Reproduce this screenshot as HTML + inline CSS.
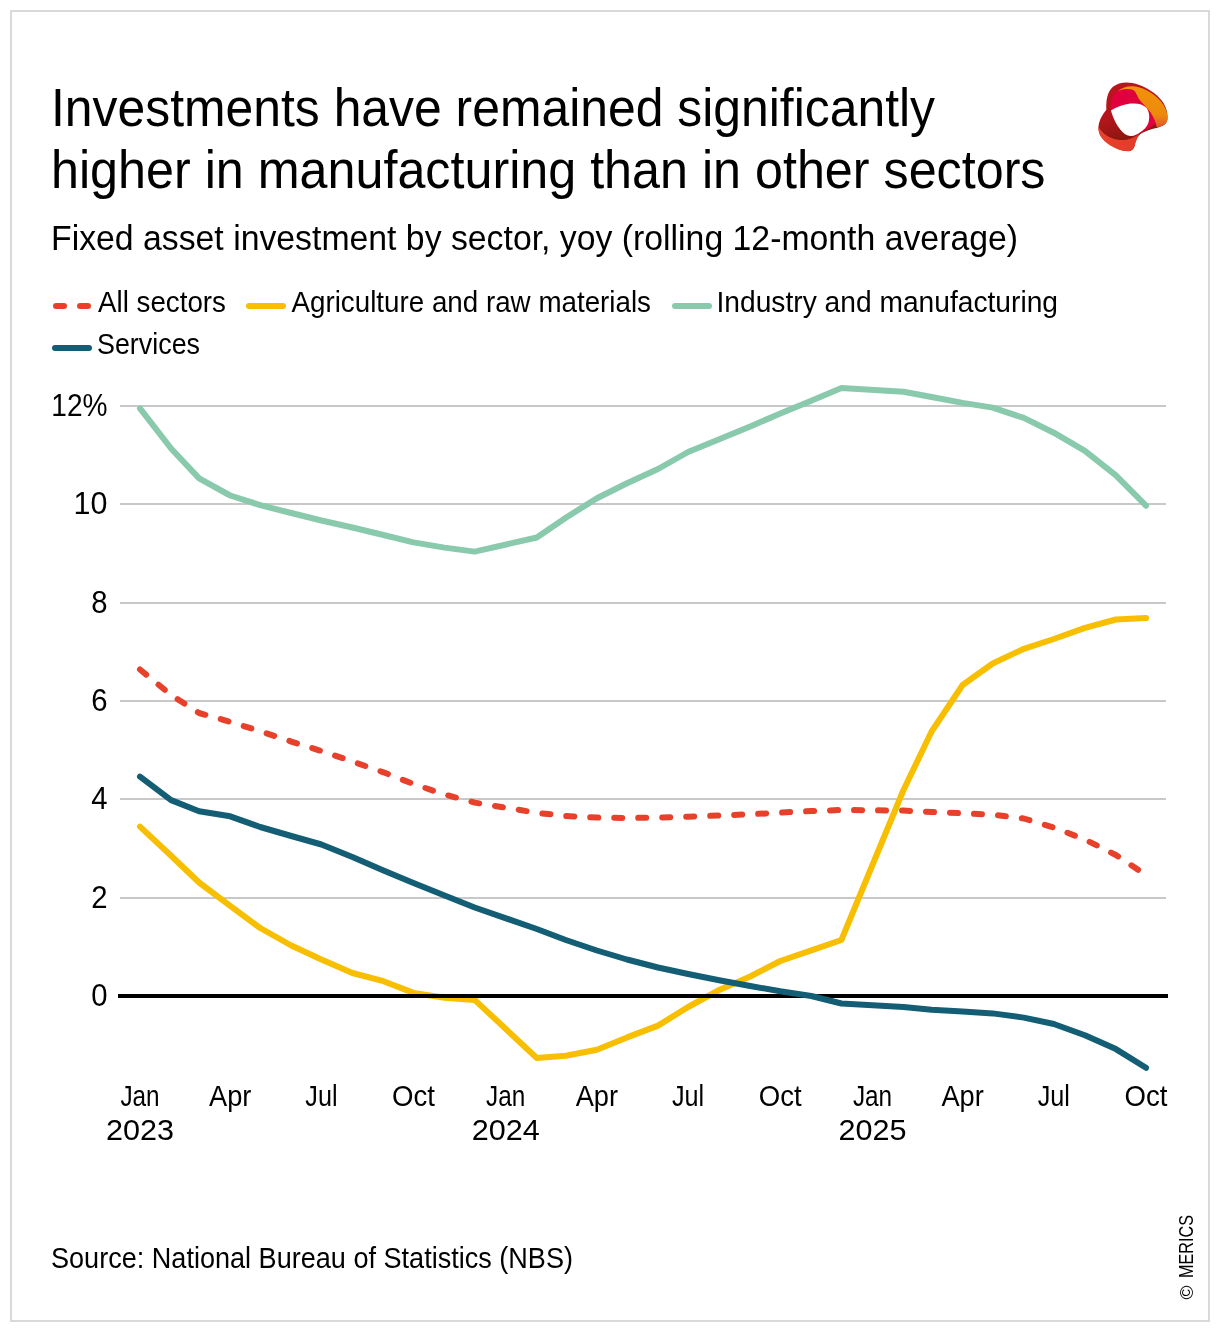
<!DOCTYPE html>
<html><head><meta charset="utf-8">
<style>
html,body{margin:0;padding:0;background:#fff;}
body{width:1220px;height:1332px;overflow:hidden;}
svg{display:block;will-change:transform;}
text{font-family:"Liberation Sans",sans-serif;fill:#000;}
.ax{font-size:30px;}
</style></head>
<body>
<svg width="1220" height="1332" viewBox="0 0 1220 1332">
<rect x="0" y="0" width="1220" height="1332" fill="#fff"/>
<rect x="11" y="11" width="1198" height="1310" fill="none" stroke="#d9d9d9" stroke-width="2"/>
<!-- title -->
<text x="51" y="125.5" font-size="53.5" textLength="884" lengthAdjust="spacingAndGlyphs">Investments have remained significantly</text>
<text x="51" y="188" font-size="53.5" textLength="994.5" lengthAdjust="spacingAndGlyphs">higher in manufacturing than in other sectors</text>
<text x="51" y="249.8" font-size="35.3" textLength="967" lengthAdjust="spacingAndGlyphs">Fixed asset investment by sector, yoy (rolling 12-month average)</text>
<!-- legend -->
<g stroke-linecap="round" stroke-width="6">
<line x1="56" y1="306" x2="64" y2="306" stroke="#e8412b"/>
<line x1="80" y1="306" x2="88" y2="306" stroke="#e8412b"/>
<line x1="249" y1="306" x2="283" y2="306" stroke="#f8be00"/>
<line x1="675" y1="306" x2="709" y2="306" stroke="#89c9ac"/>
<line x1="55" y1="348" x2="89" y2="348" stroke="#135e75"/>
</g>
<text x="98" y="312" font-size="29.3" textLength="128" lengthAdjust="spacingAndGlyphs">All sectors</text>
<text x="291.5" y="312" font-size="29.3" textLength="359.5" lengthAdjust="spacingAndGlyphs">Agriculture and raw materials</text>
<text x="716.5" y="312" font-size="29.3" textLength="341.5" lengthAdjust="spacingAndGlyphs">Industry and manufacturing</text>
<text x="97" y="354.3" font-size="29.3" textLength="103" lengthAdjust="spacingAndGlyphs">Services</text>
<!-- grid -->
<g stroke="#c8c8c8" stroke-width="2">
<line x1="120" y1="406" x2="1166" y2="406"/>
<line x1="120" y1="504" x2="1166" y2="504"/>
<line x1="120" y1="603" x2="1166" y2="603"/>
<line x1="120" y1="701" x2="1166" y2="701"/>
<line x1="120" y1="799" x2="1166" y2="799"/>
<line x1="120" y1="898" x2="1166" y2="898"/>
</g>
<g text-anchor="end">
<text x="107.5" y="416.0" font-size="30.8" textLength="56.2" lengthAdjust="spacingAndGlyphs">12%</text>
<text x="107.5" y="514.0" font-size="30.8" textLength="33.9" lengthAdjust="spacingAndGlyphs">10</text>
<text x="107.5" y="613.0" font-size="30.8" textLength="16.3" lengthAdjust="spacingAndGlyphs">8</text>
<text x="107.5" y="711.0" font-size="30.8" textLength="16.3" lengthAdjust="spacingAndGlyphs">6</text>
<text x="107.5" y="809.0" font-size="30.8" textLength="16.3" lengthAdjust="spacingAndGlyphs">4</text>
<text x="107.5" y="908.0" font-size="30.8" textLength="16.3" lengthAdjust="spacingAndGlyphs">2</text>
<text x="107.5" y="1006.0" font-size="30.8" textLength="16.3" lengthAdjust="spacingAndGlyphs">0</text>
</g>
<g fill="none" stroke-width="6" stroke-linejoin="round" stroke-linecap="round">
<polyline points="140.0,826.6 171.1,855.8 199.1,882.5 230.2,905.9 260.2,928.0 291.3,945.5 321.4,959.5 352.4,973.0 383.5,981.2 413.5,992.9 444.6,997.8 474.7,999.9 536.8,1058.0 565.8,1055.7 596.9,1049.8 627.0,1037.4 658.0,1025.6 688.1,1007.0 719.2,990.0 750.2,976.5 780.3,961.0 811.3,950.3 841.4,940.0 903.5,790.0 931.6,731.5 962.6,685.0 992.7,663.5 1023.8,648.8 1053.8,639.0 1084.9,627.9 1115.9,619.5 1146.0,618.1" stroke="#f8be00"/>
<polyline points="140.0,408.3 171.1,448.5 199.1,478.4 230.2,495.5 260.2,505.1 291.3,513.0 321.4,520.5 352.4,527.5 383.5,535.0 413.5,542.4 444.6,547.6 474.7,551.6 536.8,537.5 565.8,517.7 596.9,498.2 627.0,483.3 658.0,469.0 688.1,452.0 719.2,439.2 750.2,426.4 780.3,413.6 811.3,400.8 841.4,388.0 903.5,391.7 931.6,397.0 962.6,402.9 992.7,407.6 1023.8,417.9 1053.8,432.7 1084.9,450.8 1115.9,475.4 1146.0,505.7" stroke="#89c9ac"/>
<polyline points="140.0,669.5 171.1,695.0 199.1,713.0 230.2,721.9 260.2,731.2 291.3,741.6 321.4,751.0 352.4,761.5 383.5,772.3 413.5,784.0 444.6,794.5 474.7,802.6 536.8,812.8 565.8,816.0 596.9,817.6 627.0,818.0 658.0,817.6 688.1,816.7 719.2,815.5 750.2,814.3 780.3,812.6 811.3,811.0 841.4,810.0 903.5,810.6 931.6,812.0 962.6,813.2 992.7,814.7 1023.8,818.5 1053.8,827.5 1084.9,839.5 1115.9,855.0 1146.0,875.0" stroke="#e8412b" stroke-dasharray="8 16" />
</g>
<line x1="118" y1="996" x2="1168" y2="996" stroke="#000" stroke-width="4"/>
<polyline points="140.0,776.6 171.1,800.1 199.1,811.2 230.2,816.3 260.2,827.0 291.3,836.0 321.4,844.5 352.4,857.0 383.5,870.5 413.5,883.0 444.6,895.5 474.7,907.5 536.8,929.0 565.8,940.0 596.9,950.5 627.0,959.5 658.0,967.5 688.1,974.0 719.2,980.3 750.2,986.0 780.3,991.3 811.3,996.0 841.4,1003.5 903.5,1007.0 931.6,1009.8 962.6,1011.5 992.7,1013.4 1023.8,1017.6 1053.8,1024.0 1084.9,1035.2 1115.9,1049.1 1146.0,1067.8" fill="none" stroke="#135e75" stroke-width="6" stroke-linejoin="round" stroke-linecap="round"/>
<text x="140.0" y="1106" class="ax" text-anchor="middle" textLength="39.2" lengthAdjust="spacingAndGlyphs">Jan</text>
<text x="140.0" y="1139.6" class="ax" text-anchor="middle" textLength="68" lengthAdjust="spacingAndGlyphs">2023</text>
<text x="230.2" y="1106" class="ax" text-anchor="middle" textLength="42.4" lengthAdjust="spacingAndGlyphs">Apr</text>
<text x="321.4" y="1106" class="ax" text-anchor="middle" textLength="32.2" lengthAdjust="spacingAndGlyphs">Jul</text>
<text x="413.5" y="1106" class="ax" text-anchor="middle" textLength="42.9" lengthAdjust="spacingAndGlyphs">Oct</text>
<text x="505.7" y="1106" class="ax" text-anchor="middle" textLength="39.2" lengthAdjust="spacingAndGlyphs">Jan</text>
<text x="505.7" y="1139.6" class="ax" text-anchor="middle" textLength="68" lengthAdjust="spacingAndGlyphs">2024</text>
<text x="596.9" y="1106" class="ax" text-anchor="middle" textLength="42.4" lengthAdjust="spacingAndGlyphs">Apr</text>
<text x="688.1" y="1106" class="ax" text-anchor="middle" textLength="32.2" lengthAdjust="spacingAndGlyphs">Jul</text>
<text x="780.3" y="1106" class="ax" text-anchor="middle" textLength="42.9" lengthAdjust="spacingAndGlyphs">Oct</text>
<text x="872.5" y="1106" class="ax" text-anchor="middle" textLength="39.2" lengthAdjust="spacingAndGlyphs">Jan</text>
<text x="872.5" y="1139.6" class="ax" text-anchor="middle" textLength="68" lengthAdjust="spacingAndGlyphs">2025</text>
<text x="962.6" y="1106" class="ax" text-anchor="middle" textLength="42.4" lengthAdjust="spacingAndGlyphs">Apr</text>
<text x="1053.8" y="1106" class="ax" text-anchor="middle" textLength="32.2" lengthAdjust="spacingAndGlyphs">Jul</text>
<text x="1146.0" y="1106" class="ax" text-anchor="middle" textLength="42.9" lengthAdjust="spacingAndGlyphs">Oct</text>
<text x="51" y="1268" font-size="29.5" textLength="522" lengthAdjust="spacingAndGlyphs">Source: National Bureau of Statistics (NBS)</text>
<text transform="translate(1193,1278) rotate(-90)" font-size="21" textLength="63" lengthAdjust="spacingAndGlyphs">MERICS</text>
<text transform="translate(1193,1299.5) rotate(-90)" font-size="19">©</text>
<!-- logo -->
<g transform="translate(1090,75) scale(0.0696721)">
<defs>
<linearGradient id="lgA" x1="0" y1="0" x2="0.3" y2="1">
<stop offset="0" stop-color="#c0141f"/><stop offset="0.55" stop-color="#b01519"/><stop offset="1" stop-color="#7a170c"/>
</linearGradient>
<linearGradient id="lgO" x1="0" y1="0" x2="0" y2="1">
<stop offset="0" stop-color="#f0920a"/><stop offset="0.7" stop-color="#ed8a0c"/><stop offset="1" stop-color="#df5a2c"/>
</linearGradient>
<linearGradient id="lgR" x1="0" y1="0" x2="1" y2="0">
<stop offset="0" stop-color="#e84330"/><stop offset="1" stop-color="#e23a26"/>
</linearGradient>
</defs>
<path fill="url(#lgA)" d="M235,500 C230,380 240,250 330,170 C420,95 560,90 700,140 C820,185 950,260 1040,380 C1100,470 1120,560 1110,640 C1100,700 1060,730 990,750 C900,775 790,800 720,850 C670,890 650,960 640,1020 C620,1080 580,1095 520,1090 C400,1075 260,1000 170,900 C110,820 110,720 150,630 C180,570 210,530 235,500 Z"/>
<path fill="#e1003d" d="M300,500 C295,400 310,300 380,240 C440,190 520,180 600,200 C680,220 720,330 780,400 C860,490 930,600 950,690 C900,740 850,770 780,800 C720,830 680,860 640,880 L470,820 L330,620 Z"/>
<path fill="url(#lgO)" d="M400,230 C470,170 560,150 650,165 C780,185 920,270 1010,370 C1080,450 1115,540 1115,620 C1110,690 1060,725 980,745 L955,745 C950,690 920,620 870,540 C820,460 740,400 700,340 C670,290 660,240 620,215 C560,190 470,195 400,230 Z"/>
<path fill="#fff" d="M300,510 C380,460 480,420 580,410 C680,400 760,420 810,470 C850,520 860,600 840,680 C820,740 770,790 720,820 C680,850 640,870 590,875 C530,878 480,840 440,790 C380,720 330,620 300,510 Z"/>
<path fill="url(#lgR)" d="M120,740 C150,800 220,870 310,905 C400,940 500,945 580,915 C630,895 680,870 720,845 C690,880 660,940 645,1000 C630,1060 600,1095 540,1095 C430,1090 300,1030 210,950 C150,890 115,820 120,740 Z"/>

</g>
</svg>
</body></html>
